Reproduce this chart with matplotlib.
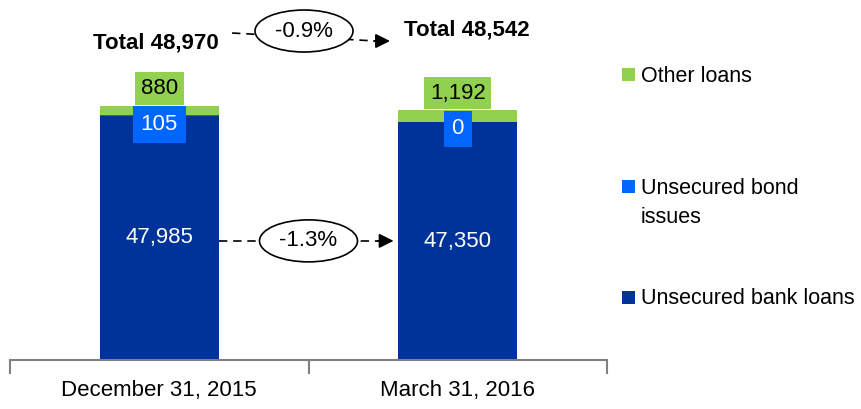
import numpy as np
import matplotlib.pyplot as plt
from matplotlib.patches import Ellipse, Rectangle

# data
dates = ['December 31, 2015', 'March 31, 2016']
bank_loans = [47985, 47350]
bond_issues = [105, 0]
other_loans = [880, 1192]
totals = [48970, 48542]
total_change = '-0.9%'
bank_change = '-1.3%'
series_names = ['Other loans', 'Unsecured bond\nissues', 'Unsecured bank loans']

dark_blue = '#003399'
blue = '#0066FF'
green = '#92D050'

plt.rcParams['font.family'] = ['Liberation Sans', 'DejaVu Sans']
plt.rcParams['font.size'] = 16

W, H = 861, 409
fig = plt.figure(figsize=(W / 100, H / 100), dpi=100)
ax = fig.add_axes([10 / W, 49 / H, 597 / W, 360 / H])

ybot, ytop = 24500, 59115
x = np.arange(len(dates))
w = 0.4

bottom2 = np.array(bank_loans)
bottom3 = bottom2 + np.array(bond_issues)
ax.bar(x, bank_loans, w, color=dark_blue)
ax.bar(x, bond_issues, w, bottom=bottom2, color=blue)
ax.bar(x, other_loans, w, bottom=bottom3, color=green)

ax.set_xlim(-0.5, 1.5)
ax.set_ylim(ybot, ytop)

# axis styling
for s in ['left', 'right', 'top']:
    ax.spines[s].set_visible(False)
ax.spines['bottom'].set_color('#808080')
ax.spines['bottom'].set_linewidth(1.5)
ax.set_yticks([])
ax.set_xticks(x)
ax.set_xticklabels(dates)
ax.tick_params(axis='x', which='major', length=0, pad=14.5)
ax.set_xticks([-0.5, 0.5, 1.5], minor=True)
ax.tick_params(axis='x', which='minor', length=10, width=1.5, color='#808080')

# value labels
for i in x:
    ax.text(i, (ybot + bank_loans[i]) / 2, f'{bank_loans[i]:,}', color='white',
            ha='center', va='center')
    ax.annotate(f'{bond_issues[i]:,}', xy=(i, totals[i]), xytext=(0, -6),
                textcoords='offset points', ha='center', va='top', color='white',
                bbox=dict(boxstyle='square,pad=0.35', fc=blue, ec='none'))
    ax.annotate(f'{other_loans[i]:,}', xy=(i, totals[i]), xytext=(0, 4.5),
                textcoords='offset points', ha='center', va='bottom',
                bbox=dict(boxstyle='square,pad=0.26', fc=green, ec='none'))

# totals
ax.text(-0.01, 54980, f'Total {totals[0]:,}', fontweight='bold', ha='center', va='center')
ax.text(1.03, 56230, f'Total {totals[1]:,}', fontweight='bold', ha='center', va='center')

px_y = (ytop - ybot) / 360  # data units per pixel
px_x = 2 / 597


def change_arrow(x0, y0, x1, y1, cx, cy, label):
    ax.plot([x0, x1 - 14 * px_x], [y0, y1], color='black', lw=1.2,
            linestyle=(0, (5, 3.5)), zorder=3)
    ax.annotate('', xy=(x1, y1), xytext=(x1 - 16 * px_x, y1),
                arrowprops=dict(arrowstyle='-|>', color='black', lw=1.2,
                                mutation_scale=22, shrinkA=0, shrinkB=0), zorder=3)
    ax.add_patch(Ellipse((cx, cy), 98 * px_x, 42 * px_y, fc='white', ec='black',
                         lw=1.2, zorder=4))
    ax.text(cx, cy, label, ha='center', va='center', zorder=5)


# change between totals
change_arrow(0.244, 55941, 0.773, 55172, 0.485, 56133, total_change)

# change in bank loans
ym = (ybot + bank_loans[0]) / 2 - 3 * px_y
change_arrow(w / 2, ym, 1 - w / 2 - 0.015, ym, 0.5, ym, bank_change)

# legend drawn by hand
colors = [green, blue, dark_blue]
legend_y = [74, 186, 297]
for name, c, ly in zip(series_names, colors, legend_y):
    fig.patches.append(Rectangle((622 / W, 1 - (ly + 6.5) / H), 13 / W, 13 / H,
                                 transform=fig.transFigure, fc=c, ec='none'))
    fig.text(641 / W, 1 - (ly - 8.5) / H, name, ha='left', va='top', linespacing=1.55,
             fontsize=15.5)

fig.savefig('out.png', dpi=100)
